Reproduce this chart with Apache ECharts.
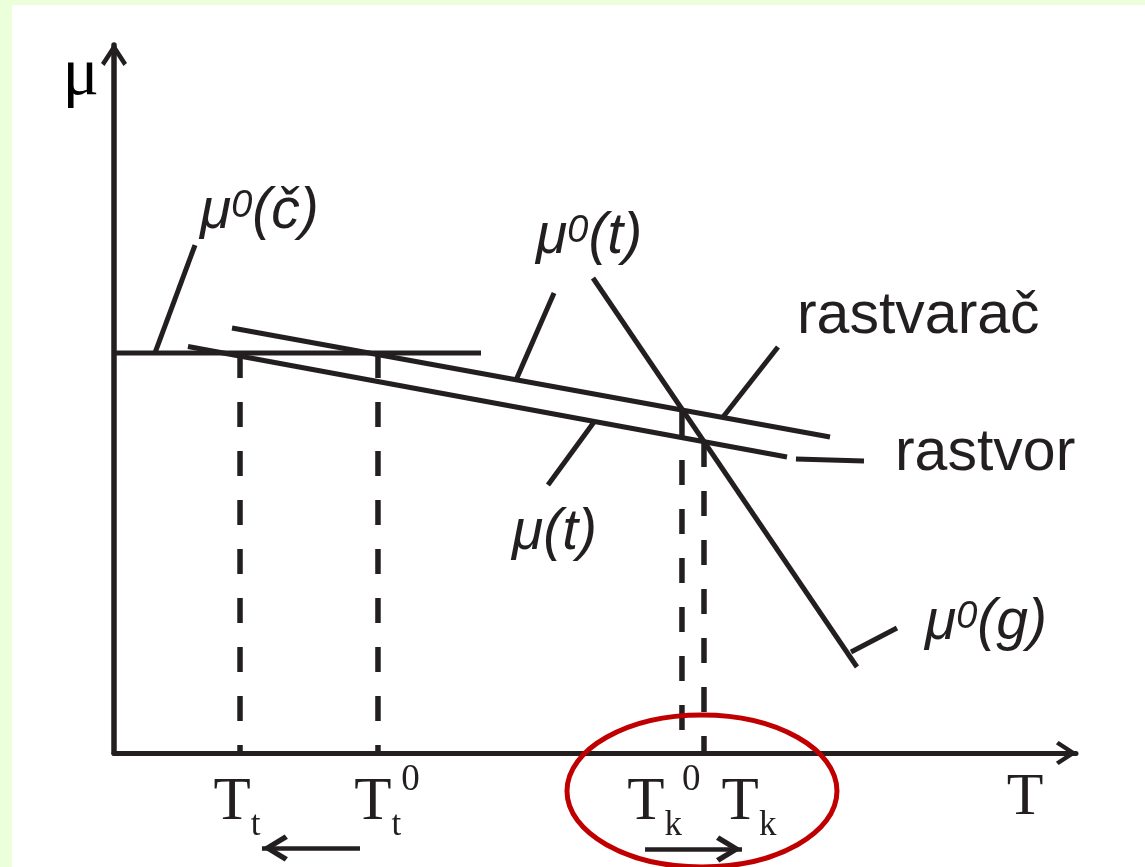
<!DOCTYPE html>
<html lang="sr">
<head>
<meta charset="utf-8">
<title>μ – T</title>
<script src="https://cdn.jsdelivr.net/npm/echarts@6.0.0/dist/echarts.min.js"></script>
<style>
  html, body { margin: 0; padding: 0; width: 1145px; height: 867px; overflow: hidden; background: #ebffdb; }
  #chart { position: absolute; left: 12px; top: 5px; width: 1133px; height: 862px; background: #ffffff; }
</style>
</head>
<body>
<div id="chart"></div>
<script>
// Chemical potential μ versus temperature T (arbitrary units, both axes 0–100)

// straight lines, [T, μ] end points
const solidLine = [[0, 56.5], [38.15, 56.5]];              // μ0(č)
const pureSolventLine = [[12.27, 60.03], [74.43, 44.63]];  // μ0(t), rastvarač
const solutionLine = [[7.69, 57.42], [69.96, 41.81]];      // μ(t), rastvor
const gasLine = [[49.79, 67.09], [77.23, 12.15]];          // μ0(g)

// transition temperatures and the μ at which their drop lines start
const tickValues = [13.10, 27.44, 59.04, 61.33];
const dropTops = [56.5, 56.5, 48.31, 43.93];
const tickBase = ['T', 'T', 'T', 'T'];
const tickSub = ['t', 't', 'k', 'k'];
const tickSup = ['', '0', '0', ''];

// leader lines, from the line out to its caption
const solidLeader = [[4.26, 56.5], [8.42, 71.75]];
const pureSolventLeader = [[41.79, 52.68], [45.74, 64.97]];
const solventLeader = [[63.31, 47.46], [69.02, 57.34]];
const solutionTag = [[70.89, 41.53], [77.96, 41.24]];
const solutionLeader = [[49.90, 46.75], [45.11, 37.85]];
const gasLeader = [[76.61, 14.27], [81.39, 17.66]];

// shifts of the freezing and boiling points
const freezingShift = [[25.57, -13.42], [15.38, -13.42]];
const boilingShift = [[55.20, -13.56], [65.28, -13.56]];

// captions at the free ends of the leaders
const captionText = [
  '{m|μ}{s|0}{m|(č)}',
  '{m|μ}{s|0}{m|(t)}',
  '{w|rastvarač}',
  '{w|rastvor}',
  '{m|μ(t)}',
  '{m|μ}{s|0}{m|(g)}'
];
const captionAnchor = [solidLeader[1], pureSolventLeader[1], solventLeader[1],
                       solutionTag[1], solutionLeader[1], gasLeader[1]];

// ---- styling ----
const ink = '#231f20';
const sans = 'Liberation Sans';
const serif = 'Liberation Serif';

const gridBox = { left: 102, top: 40, right: 69, bottom: 114 };
const plotWidth = 1133 - gridBox.left - gridBox.right;   // px spanned by T = 0…100

const captionPlace = [
  { align: 'left', verticalAlign: 'bottom', offset: [5, -2] },
  { align: 'left', verticalAlign: 'bottom', offset: [-18, -25] },
  { align: 'left', verticalAlign: 'bottom', offset: [19, 1] },
  { align: 'left', verticalAlign: 'middle', offset: [31, -7] },
  { align: 'left', verticalAlign: 'top', offset: [-36, 17] },
  { align: 'left', verticalAlign: 'middle', offset: [28, -5] }
];
// horizontal shift of each temperature label away from its drop line, px
const tickNudge = [-3, 9, -18, 45];
const labelValues = tickValues.map(function (t, i) { return t + tickNudge[i] * 100 / plotWidth; });

const richCaption = {
  m: { fontFamily: sans, fontStyle: 'italic', fontSize: 57, lineHeight: 62, verticalAlign: 'middle', color: ink },
  s: { fontFamily: sans, fontStyle: 'italic', fontSize: 38, verticalAlign: 'top', padding: [6, 0, 0, 0], color: ink },
  w: { fontFamily: sans, fontSize: 59, lineHeight: 62, verticalAlign: 'middle', color: ink }
};

const richTick = {
  T: { fontFamily: serif, fontSize: 61, color: ink, verticalAlign: 'top', padding: [10, 0, 0, 0] },
  sub: { fontFamily: serif, fontSize: 35, color: ink, verticalAlign: 'top', padding: [46, 0, 0, 0] },
  sup: { fontFamily: serif, fontSize: 37, color: ink, verticalAlign: 'top', padding: [0, 0, 0, 0] }
};

function tickLabel(value) {
  let i = -1;
  labelValues.forEach(function (v, k) { if (Math.abs(v - value) < 1e-6) i = k; });
  if (i < 0) return '';
  let s = '{T|' + tickBase[i] + '}{sub|' + tickSub[i] + '}';
  if (tickSup[i]) s += '{sup|' + tickSup[i] + '}';
  return s;
}

// open chevron arrow heads, tip pointing up
const axisHead = 'path://M13 0L26 20L22.5 23L13 8.5L3.5 23L0 20Z';
// same head, with its tip at the centre of the symbol box
const shiftHead = 'path://M11 0L11.02 0L11 0.02Z M11 24L22 44L18.5 47L11 33L3.5 47L0 44Z';

function solid(data, width) {
  return {
    type: 'line', data: data, symbol: 'none', showSymbol: false, silent: true,
    animation: false, z: 3,
    lineStyle: { color: ink, width: width || 5, cap: 'butt' }
  };
}

const series = [
  solid(solidLine), solid(pureSolventLine), solid(solutionLine), solid(gasLine),
  solid(solidLeader), solid(pureSolventLeader), solid(solventLeader),
  solid(solutionTag), solid(solutionLeader), solid(gasLeader)
];

tickValues.forEach(function (t, i) {
  series.push({
    type: 'line', data: [[t, dropTops[i]], [t, 0]], symbol: 'none', showSymbol: false,
    silent: true, animation: false, z: 2,
    lineStyle: { color: ink, width: 5.5, type: [25, 24], cap: 'butt' }
  });
});

series.push({
  type: 'lines', coordinateSystem: 'cartesian2d', clip: false, silent: true, animation: false, z: 3,
  symbol: ['none', shiftHead], symbolSize: [0, [27, 52]],
  lineStyle: { color: ink, width: 4.5, opacity: 1, curveness: 0 },
  itemStyle: { color: ink },
  data: [{ coords: freezingShift }, { coords: boilingShift }]
});

series.push({
  type: 'scatter', symbolSize: 0.01, silent: true, animation: false, z: 6,
  itemStyle: { color: ink, opacity: 1 },
  data: captionAnchor.map(function (p, i) {
    return {
      value: p,
      label: {
        show: true, position: [0, 0], color: ink, opacity: 1,
        textBorderWidth: 0, textShadowBlur: 0,
        align: captionPlace[i].align, verticalAlign: captionPlace[i].verticalAlign,
        offset: captionPlace[i].offset, lineHeight: 62,
        formatter: function () { return captionText[i]; },
        rich: richCaption
      }
    };
  })
});

const chart = echarts.init(document.getElementById('chart'), null, { renderer: 'canvas' });

chart.setOption({
  backgroundColor: 'transparent',
  animation: false,
  grid: { left: gridBox.left, top: gridBox.top, right: gridBox.right, bottom: gridBox.bottom,
          outerBoundsMode: 'none', containLabel: false },
  xAxis: {
    type: 'value', min: 0, max: 100,
    axisLine: {
      show: true, lineStyle: { color: ink, width: 5 },
      symbol: ['none', axisHead], symbolSize: [24, 23], symbolOffset: [0, -9.5]
    },
    axisTick: { show: false },
    splitLine: { show: false },
    axisLabel: {
      show: true, customValues: labelValues, margin: 9, hideOverlap: false,
      formatter: tickLabel, rich: richTick
    },
    name: 'T', nameLocation: 'end', nameGap: -51, nameMoveOverlap: false,
    nameTextStyle: {
      fontFamily: serif, fontSize: 60, color: ink,
      align: 'center', verticalAlign: 'top', padding: [15, 0, 0, 0]
    }
  },
  yAxis: {
    type: 'value', min: 0, max: 100,
    axisLine: {
      show: true, lineStyle: { color: ink, width: 5.5 },
      symbol: ['none', axisHead], symbolSize: [26, 23], symbolOffset: [0, -9.5]
    },
    axisTick: { show: false },
    splitLine: { show: false },
    axisLabel: { show: false },
    name: 'μ', nameLocation: 'end', nameGap: -31, nameMoveOverlap: false,
    nameTextStyle: {
      fontFamily: serif, fontSize: 68, color: '#000000',
      align: 'right', verticalAlign: 'middle', padding: [0, 15, 0, 0]
    }
  },
  series: series
});

// red ring around the boiling-point pair
const mid = chart.convertToPixel({ gridIndex: 0 }, [(tickValues[2] + tickValues[3]) / 2, 0]);
chart.setOption({
  graphic: [{
    type: 'ellipse', silent: true, z: 100,
    shape: { cx: mid[0] + 9, cy: mid[1] + 38, rx: 135, ry: 76 },
    style: { fill: 'none', stroke: '#c00000', lineWidth: 5 }
  }]
});
</script>
</body>
</html>
